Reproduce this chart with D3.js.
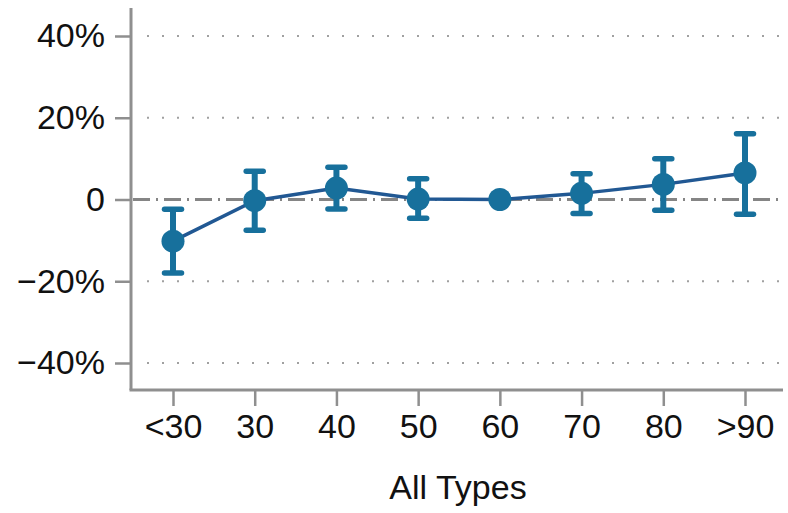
<!DOCTYPE html>
<html><head><meta charset="utf-8">
<script src="https://cdn.jsdelivr.net/npm/d3@7"></script>
<style>body{margin:0;background:#fff}svg{display:block}</style>
</head><body>
<svg id="chart" width="788" height="513"></svg>
<script>
const categories = ["<30","30","40","50","60","70","80",">90"];
const estimates  = [-10.2, -0.3, 2.8, 0.1, 0, 1.5, 3.7, 6.5];
const ciLow      = [-18.0, -7.5, -2.3, -4.6, null, -3.4, -2.6, -3.6];
const ciHigh     = [-2.4, 6.9, 7.9, 5.1, null, 6.3, 10.0, 16.1];
const yTicks     = [-40, -20, 0, 20, 40];
const xTitle     = "All Types";

(function () {
const svg = d3.select("#chart");
const font = "'Liberation Sans', Arial, sans-serif";
const axisColor = "#8f8f8f";
const markColor = "#17709c";
const lineColor = "#215893";

const x = d3.scalePoint().domain(categories).range([173, 745]);
const y = d3.scaleLinear().domain([-40, 40]).range([363, 36]);

const pLeft = 131, pRight = 783, pTop = 8, pBottom = 390;

// gridlines (dotted)
svg.append("g").selectAll("line").data(yTicks.filter(d => d !== 0)).join("line")
  .attr("x1", 147).attr("x2", pRight).attr("y1", d => y(d)).attr("y2", d => y(d))
  .attr("stroke", "#a0a0a0").attr("stroke-width", 2)
  .attr("stroke-dasharray", "2,13");

// zero line dash-dot
svg.append("line").attr("x1", pLeft + 2).attr("x2", pRight).attr("y1", y(0)).attr("y2", y(0))
  .attr("stroke", "#858585").attr("stroke-width", 3)
  .attr("stroke-dasharray", "17,6,2,6");

// y axis
const yAxis = d3.axisLeft(y).tickValues(yTicks).tickSize(16).tickPadding(10)
  .tickFormat(d => d === 0 ? "0" : (d < 0 ? "\u2212" + Math.abs(d) : d) + "%");
const gy = svg.append("g").attr("transform", `translate(${pLeft},0)`).call(yAxis);
gy.select(".domain").remove();
gy.selectAll(".tick line").attr("stroke", axisColor).attr("stroke-width", 2.5);
gy.selectAll(".tick text").attr("font-family", font).attr("font-size", 34).attr("fill", "#111");
svg.append("line").attr("x1", pLeft).attr("x2", pLeft).attr("y1", pTop).attr("y2", pBottom)
  .attr("stroke", axisColor).attr("stroke-width", 3);

// x axis
const xAxis = d3.axisBottom(x).tickSize(16).tickPadding(8);
const gx = svg.append("g").attr("transform", `translate(0,${pBottom})`).call(xAxis);
gx.select(".domain").remove();
gx.selectAll(".tick line").attr("stroke", axisColor).attr("stroke-width", 2.5);
gx.selectAll(".tick text").attr("font-family", font).attr("font-size", 34).attr("fill", "#111");
svg.append("line").attr("x1", pLeft - 1.5).attr("x2", pRight).attr("y1", pBottom).attr("y2", pBottom)
  .attr("stroke", axisColor).attr("stroke-width", 3);

svg.append("text").attr("x", 458).attr("y", 499).attr("text-anchor", "middle")
  .attr("font-family", font).attr("font-size", 34).attr("fill", "#111").text(xTitle);

const data = categories.map((c, i) => ({c, v: estimates[i], lo: ciLow[i], hi: ciHigh[i]}));

// connecting line
svg.append("path").datum(data)
  .attr("d", d3.line().x(d => x(d.c)).y(d => y(d.v)))
  .attr("fill", "none").attr("stroke", lineColor).attr("stroke-width", 3.5);

// error bars
const eb = svg.append("g").selectAll("g").data(data.filter(d => d.lo !== null)).join("g");
eb.append("line").attr("x1", d => x(d.c)).attr("x2", d => x(d.c))
  .attr("y1", d => y(d.lo)).attr("y2", d => y(d.hi))
  .attr("stroke", markColor).attr("stroke-width", 6);
eb.append("line").attr("x1", d => x(d.c) - 8.5).attr("x2", d => x(d.c) + 8.5)
  .attr("y1", d => y(d.hi)).attr("y2", d => y(d.hi))
  .attr("stroke", markColor).attr("stroke-width", 5.5).attr("stroke-linecap", "round");
eb.append("line").attr("x1", d => x(d.c) - 8.5).attr("x2", d => x(d.c) + 8.5)
  .attr("y1", d => y(d.lo)).attr("y2", d => y(d.lo))
  .attr("stroke", markColor).attr("stroke-width", 5.5).attr("stroke-linecap", "round");

// points
svg.append("g").selectAll("circle").data(data).join("circle")
  .attr("cx", d => x(d.c)).attr("cy", d => y(d.v)).attr("r", 11.5)
  .attr("fill", markColor);
})();
</script>
</body></html>
